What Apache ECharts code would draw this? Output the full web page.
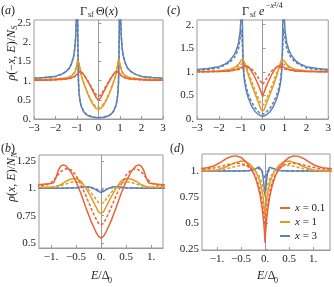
<!DOCTYPE html>
<html><head><meta charset="utf-8">
<script src="https://cdn.jsdelivr.net/npm/echarts@6/dist/echarts.min.js"></script>
<style>html,body{margin:0;padding:0;background:#fff}#c{width:334px;height:287px}</style>
</head><body><div id="c"></div>
<script>
// ---------- tick labels ----------
const aXTicks = [-3,-2,-1,0,1,2,3];
const aXLabels = ['\u22123','\u22122','\u22121','0','1','2','3'];
const aYTicks = [0,0.5,1,1.5,2,2.5];
const aYLabels = ['0.','0.5','1.','1.5','2.','2.5'];
const cYTicks = [0,0.5,1,1.5,2];
const cYLabels = ['0.','0.5','1.','1.5','2.'];
const bXTicks = [-1,-0.5,0,0.5,1];
const bXLabels = ['\u22121.','\u22120.5','0.','0.5','1.'];
const bYTicks = [0.5,0.75,1,1.25];
const bYLabels = ['0.5','0.75','1.','1.25'];
const dYTicks = [0.25,0.5,0.75,1];
const dYLabels = ['0.25','0.5','0.75','1.'];
const legendNames = ['x = 0.1','x = 1','x = 3'];

// ---------- panel (a): Gamma_sf Theta(x) ----------
const aBlueSolid = [[-3,1.06],[-2.5,1.08],[-2,1.11],[-1.7,1.17],[-1.5,1.24],[-1.35,1.33],[-1.25,1.45],[-1.15,1.65],[-1.1,1.85],[-1.06,2.15],[-1.03,2.6],[-1,4],[-0.97,2.6],[-0.95,1.5],[-0.93,0.95],[-0.9,0.65],[-0.85,0.45],[-0.8,0.33],[-0.7,0.2],[-0.6,0.13],[-0.5,0.09],[-0.35,0.06],[-0.2,0.04],[0,0.03],
  [0.2,0.04],[0.35,0.06],[0.5,0.09],[0.6,0.13],[0.7,0.2],[0.8,0.33],[0.85,0.45],[0.9,0.65],[0.93,0.95],[0.95,1.5],[0.97,2.6],[1,4],[1.03,2.6],[1.06,2.15],[1.1,1.85],[1.15,1.65],[1.25,1.45],[1.35,1.33],[1.5,1.24],[1.7,1.17],[2,1.11],[2.5,1.08],[3,1.06]];
const aBlueDash = [[-3,1.06],[-2.5,1.08],[-2,1.11],[-1.7,1.17],[-1.5,1.24],[-1.35,1.33],[-1.25,1.45],[-1.15,1.65],[-1.1,1.85],[-1.06,2.15],[-1.03,2.6],[-1,4],[-0.97,2.6],[-0.95,1.5],[-0.93,0.96],[-0.9,0.66],[-0.85,0.46],[-0.8,0.34],[-0.7,0.21],[-0.6,0.14],[-0.5,0.1],[-0.35,0.07],[-0.2,0.05],[0,0.04],
  [0.2,0.05],[0.35,0.07],[0.5,0.1],[0.6,0.14],[0.7,0.21],[0.8,0.34],[0.85,0.46],[0.9,0.66],[0.93,0.96],[0.95,1.5],[0.97,2.6],[1,4],[1.03,2.6],[1.06,2.15],[1.1,1.85],[1.15,1.65],[1.25,1.45],[1.35,1.33],[1.5,1.24],[1.7,1.17],[2,1.11],[2.5,1.08],[3,1.06]];
const aOrangeSolid = [[-3,1.03],[-2.5,1.03],[-2,1.04],[-1.5,1.07],[-1.25,1.12],[-1.1,1.22],[-1.02,1.38],[-0.97,1.52],[-0.94,1.56],[-0.9,1.45],[-0.85,1.27],[-0.8,1.13],[-0.7,0.96],[-0.6,0.8],[-0.5,0.66],[-0.4,0.53],[-0.3,0.42],[-0.2,0.33],[-0.1,0.27],[0,0.25],
  [0.1,0.27],[0.2,0.33],[0.3,0.42],[0.4,0.53],[0.5,0.66],[0.6,0.8],[0.7,0.96],[0.8,1.13],[0.85,1.27],[0.9,1.45],[0.94,1.56],[0.97,1.52],[1.02,1.38],[1.1,1.22],[1.25,1.12],[1.5,1.07],[2,1.04],[2.5,1.03],[3,1.03]];
const aOrangeDash = [[-3,1.03],[-2.5,1.03],[-2,1.04],[-1.5,1.07],[-1.25,1.12],[-1.1,1.22],[-1.02,1.37],[-0.97,1.5],[-0.94,1.53],[-0.9,1.44],[-0.85,1.27],[-0.8,1.14],[-0.7,0.97],[-0.6,0.82],[-0.5,0.68],[-0.4,0.56],[-0.3,0.45],[-0.2,0.37],[-0.1,0.32],[0,0.3],
  [0.1,0.32],[0.2,0.37],[0.3,0.45],[0.4,0.56],[0.5,0.68],[0.6,0.82],[0.7,0.97],[0.8,1.14],[0.85,1.27],[0.9,1.44],[0.94,1.53],[0.97,1.5],[1.02,1.37],[1.1,1.22],[1.25,1.12],[1.5,1.07],[2,1.04],[2.5,1.03],[3,1.03]];
const aRedSolid = [[-3,1.01],[-2.5,1.01],[-2,1.02],[-1.5,1.04],[-1.25,1.07],[-1.1,1.11],[-1,1.17],[-0.92,1.22],[-0.85,1.25],[-0.8,1.24],[-0.7,1.17],[-0.6,1.08],[-0.5,0.98],[-0.4,0.88],[-0.3,0.77],[-0.2,0.66],[-0.1,0.55],[-0.05,0.5],[0,0.48],
  [0.05,0.5],[0.1,0.55],[0.2,0.66],[0.3,0.77],[0.4,0.88],[0.5,0.98],[0.6,1.08],[0.7,1.17],[0.8,1.24],[0.85,1.25],[0.92,1.22],[1,1.17],[1.1,1.11],[1.25,1.07],[1.5,1.04],[2,1.02],[2.5,1.01],[3,1.01]];
const aRedDash = [[-3,1.01],[-2.5,1.01],[-2,1.02],[-1.5,1.04],[-1.25,1.07],[-1.1,1.11],[-1,1.17],[-0.92,1.22],[-0.85,1.24],[-0.8,1.23],[-0.7,1.17],[-0.6,1.09],[-0.5,1.0],[-0.4,0.91],[-0.3,0.81],[-0.2,0.71],[-0.1,0.63],[-0.05,0.6],[0,0.59],
  [0.05,0.6],[0.1,0.63],[0.2,0.71],[0.3,0.81],[0.4,0.91],[0.5,1.0],[0.6,1.09],[0.7,1.17],[0.8,1.23],[0.85,1.24],[0.92,1.22],[1,1.17],[1.1,1.11],[1.25,1.07],[1.5,1.04],[2,1.02],[2.5,1.01],[3,1.01]];

// ---------- panel (c): Gamma_sf exp(-x^2/4) ----------
const cBlueSolid = [[-3,1.05],[-2.5,1.07],[-2,1.11],[-1.7,1.17],[-1.5,1.24],[-1.3,1.36],[-1.2,1.46],[-1.1,1.62],[-1.03,1.85],[-0.98,2.2],[-0.95,3],[-0.93,2.2],[-0.9,1.4],[-0.87,1.0],[-0.83,0.8],[-0.75,0.6],[-0.65,0.44],[-0.5,0.27],[-0.35,0.16],[-0.2,0.1],[-0.1,0.07],[0,0.06],
  [0.1,0.07],[0.2,0.1],[0.35,0.16],[0.5,0.27],[0.65,0.44],[0.75,0.6],[0.83,0.8],[0.87,1.0],[0.9,1.4],[0.93,2.2],[0.95,3],[0.98,2.2],[1.03,1.85],[1.1,1.62],[1.2,1.46],[1.3,1.36],[1.5,1.24],[1.7,1.17],[2,1.11],[2.5,1.07],[3,1.05]];
const cBlueDash = [[-3,1.03],[-2.5,1.05],[-2,1.08],[-1.5,1.2],[-1.3,1.3],[-1.2,1.38],[-1.1,1.5],[-1.03,1.7],[-0.98,1.9],[-0.95,1.92],[-0.92,1.5],[-0.88,1.1],[-0.83,0.88],[-0.75,0.68],[-0.65,0.52],[-0.5,0.36],[-0.35,0.24],[-0.2,0.16],[-0.1,0.12],[0,0.1],
  [0.1,0.12],[0.2,0.16],[0.35,0.24],[0.5,0.36],[0.65,0.52],[0.75,0.68],[0.83,0.88],[0.88,1.1],[0.92,1.5],[0.95,1.92],[0.98,1.9],[1.03,1.7],[1.1,1.5],[1.2,1.38],[1.3,1.3],[1.5,1.2],[2,1.08],[2.5,1.05],[3,1.03]];
const cOrangeSolid = [[-3,1.01],[-2.5,1.01],[-2,1.02],[-1.5,1.05],[-1.25,1.1],[-1.1,1.16],[-1,1.23],[-0.92,1.28],[-0.87,1.27],[-0.8,1.17],[-0.7,1.0],[-0.6,0.86],[-0.5,0.72],[-0.4,0.6],[-0.3,0.48],[-0.2,0.36],[-0.1,0.24],[-0.05,0.18],[0,0.14],
  [0.05,0.18],[0.1,0.24],[0.2,0.36],[0.3,0.48],[0.4,0.6],[0.5,0.72],[0.6,0.86],[0.7,1.0],[0.8,1.17],[0.87,1.27],[0.92,1.28],[1,1.23],[1.1,1.16],[1.25,1.1],[1.5,1.05],[2,1.02],[2.5,1.01],[3,1.01]];
const cOrangeDash = [[-3,1.01],[-2.5,1.01],[-2,1.02],[-1.5,1.04],[-1.2,1.09],[-1,1.15],[-0.9,1.2],[-0.85,1.2],[-0.75,1.1],[-0.6,0.93],[-0.5,0.8],[-0.4,0.68],[-0.3,0.56],[-0.2,0.45],[-0.1,0.35],[-0.05,0.3],[0,0.27],
  [0.05,0.3],[0.1,0.35],[0.2,0.45],[0.3,0.56],[0.4,0.68],[0.5,0.8],[0.6,0.93],[0.75,1.1],[0.85,1.2],[0.9,1.2],[1,1.15],[1.2,1.09],[1.5,1.04],[2,1.02],[2.5,1.01],[3,1.01]];
const cRedSolid = [[-3,1.0],[-2,1.01],[-1.5,1.02],[-1.2,1.05],[-1,1.09],[-0.85,1.12],[-0.75,1.13],[-0.65,1.11],[-0.55,1.05],[-0.45,0.97],[-0.35,0.88],[-0.25,0.78],[-0.15,0.67],[-0.07,0.57],[0,0.47],
  [0.07,0.57],[0.15,0.67],[0.25,0.78],[0.35,0.88],[0.45,0.97],[0.55,1.05],[0.65,1.11],[0.75,1.13],[0.85,1.12],[1,1.09],[1.2,1.05],[1.5,1.02],[2,1.01],[3,1.0]];
const cRedDash = [[-3,1.0],[-2,1.01],[-1.5,1.02],[-1,1.06],[-0.8,1.09],[-0.65,1.1],[-0.5,1.06],[-0.35,0.98],[-0.2,0.88],[-0.1,0.8],[0,0.73],
  [0.1,0.8],[0.2,0.88],[0.35,0.98],[0.5,1.06],[0.65,1.1],[0.8,1.09],[1,1.06],[1.5,1.02],[2,1.01],[3,1.0]];

// ---------- panel (b) ----------
const bRedSolid = [[-1.3,1.03],[-1.1,1.04],[-1,1.045],[-0.95,1.05],[-0.9,1.1],[-0.85,1.17],[-0.8,1.205],[-0.75,1.215],[-0.7,1.205],[-0.6,1.15],[-0.5,1.06],[-0.4,0.95],[-0.3,0.82],[-0.2,0.7],[-0.1,0.6],[-0.05,0.56],[0,0.545],
  [0.05,0.56],[0.1,0.6],[0.2,0.7],[0.3,0.82],[0.4,0.95],[0.5,1.06],[0.6,1.15],[0.7,1.205],[0.75,1.215],[0.8,1.205],[0.85,1.17],[0.9,1.1],[0.95,1.05],[1,1.045],[1.1,1.04],[1.3,1.03]];
const bRedDash = [[-1.3,1.02],[-1.1,1.03],[-1,1.05],[-0.9,1.1],[-0.8,1.155],[-0.7,1.18],[-0.6,1.17],[-0.5,1.12],[-0.4,1.03],[-0.3,0.93],[-0.2,0.82],[-0.1,0.72],[-0.05,0.68],[0,0.665],
  [0.05,0.68],[0.1,0.72],[0.2,0.82],[0.3,0.93],[0.4,1.03],[0.5,1.12],[0.6,1.17],[0.7,1.18],[0.8,1.155],[0.9,1.1],[1,1.05],[1.1,1.03],[1.3,1.02]];
const bOrangeSolid = [[-1.3,1.01],[-1,1.01],[-0.9,1.015],[-0.8,1.035],[-0.7,1.065],[-0.6,1.085],[-0.5,1.09],[-0.4,1.065],[-0.3,1.0],[-0.2,0.92],[-0.1,0.83],[-0.05,0.785],[0,0.77],
  [0.05,0.785],[0.1,0.83],[0.2,0.92],[0.3,1.0],[0.4,1.065],[0.5,1.09],[0.6,1.085],[0.7,1.065],[0.8,1.035],[0.9,1.015],[1,1.01],[1.3,1.01]];
const bOrangeDash = [[-1.3,1.005],[-1,1.01],[-0.8,1.025],[-0.7,1.04],[-0.6,1.055],[-0.5,1.06],[-0.4,1.05],[-0.3,1.01],[-0.2,0.96],[-0.1,0.9],[-0.05,0.87],[0,0.86],
  [0.05,0.87],[0.1,0.9],[0.2,0.96],[0.3,1.01],[0.4,1.05],[0.5,1.06],[0.6,1.055],[0.7,1.04],[0.8,1.025],[1,1.01],[1.3,1.005]];
const bBlueSolid = [[-1.3,1.0],[-0.8,1.0],[-0.5,1.005],[-0.35,1.015],[-0.25,1.015],[-0.15,1.0],[-0.08,0.98],[0,0.96],
  [0.08,0.98],[0.15,1.0],[0.25,1.015],[0.35,1.015],[0.5,1.005],[0.8,1.0],[1.3,1.0]];
const bBlueDash = [[-1.3,1.0],[-0.5,1.003],[-0.3,1.01],[-0.15,1.0],[-0.05,0.985],[0,0.98],
  [0.05,0.985],[0.15,1.0],[0.3,1.01],[0.5,1.003],[1.3,1.0]];

// ---------- panel (d) ----------
const dRedSolid = [[-1.4,1.02],[-1.2,1.03],[-1.05,1.05],[-0.9,1.09],[-0.8,1.12],[-0.7,1.14],[-0.6,1.145],[-0.5,1.13],[-0.4,1.09],[-0.3,1.03],[-0.22,0.96],[-0.15,0.86],[-0.1,0.76],[-0.06,0.64],[-0.03,0.52],[-0.01,0.4],[0,0.31],
  [0.01,0.4],[0.03,0.52],[0.06,0.64],[0.1,0.76],[0.15,0.86],[0.22,0.96],[0.3,1.03],[0.4,1.09],[0.5,1.13],[0.6,1.145],[0.7,1.14],[0.8,1.12],[0.9,1.09],[1.05,1.05],[1.2,1.03],[1.4,1.02]];
const dRedDash = [[-1.4,1.01],[-1.1,1.025],[-0.9,1.045],[-0.7,1.07],[-0.55,1.075],[-0.4,1.06],[-0.3,1.02],[-0.2,0.95],[-0.12,0.85],[-0.07,0.73],[-0.03,0.6],[0,0.47],
  [0.03,0.6],[0.07,0.73],[0.12,0.85],[0.2,0.95],[0.3,1.02],[0.4,1.06],[0.55,1.075],[0.7,1.07],[0.9,1.045],[1.1,1.025],[1.4,1.01]];
const dOrangeSolid = [[-1.4,1.0],[-1,1.01],[-0.8,1.04],[-0.65,1.075],[-0.5,1.095],[-0.4,1.09],[-0.3,1.06],[-0.2,1.0],[-0.13,0.93],[-0.08,0.85],[-0.04,0.75],[-0.01,0.62],[0,0.56],
  [0.01,0.62],[0.04,0.75],[0.08,0.85],[0.13,0.93],[0.2,1.0],[0.3,1.06],[0.4,1.09],[0.5,1.095],[0.65,1.075],[0.8,1.04],[1,1.01],[1.4,1.0]];
const dOrangeDash = [[-1.4,1.0],[-1,1.005],[-0.8,1.02],[-0.6,1.045],[-0.45,1.055],[-0.3,1.04],[-0.2,1.0],[-0.12,0.95],[-0.06,0.88],[-0.02,0.8],[0,0.75],
  [0.02,0.8],[0.06,0.88],[0.12,0.95],[0.2,1.0],[0.3,1.04],[0.45,1.055],[0.6,1.045],[0.8,1.02],[1,1.005],[1.4,1.0]];
const dBlueSolid = [[-1.4,1.0],[-0.5,1.0],[-0.3,1.005],[-0.2,1.02],[-0.13,1.04],[-0.09,1.035],[-0.06,1.0],[-0.03,0.9],[-0.01,0.8],[0,0.76],
  [0.01,0.8],[0.03,0.9],[0.06,1.0],[0.09,1.035],[0.13,1.04],[0.2,1.02],[0.3,1.005],[0.5,1.0],[1.4,1.0]];
const dBlueDash = [[-1.4,1.0],[-0.4,1.0],[-0.25,1.01],[-0.15,1.025],[-0.1,1.015],[-0.06,0.99],[-0.03,0.96],[0,0.93],
  [0.03,0.96],[0.06,0.99],[0.1,1.015],[0.15,1.025],[0.25,1.01],[0.4,1.0],[1.4,1.0]];

// ---------- styling ----------
const RED = '#EB6235', ORANGE = '#E19C24', BLUE = '#5E81B5';
const FONT = "'Liberation Serif','DejaVu Serif',serif";
const FRAME = '#9a9a9a';
const TXT = '#222';

function fmt(ticks, labels){
  return function(v){
    for (let i=0;i<ticks.length;i++){ if (Math.abs(ticks[i]-v)<1e-6) return labels[i]; }
    return '';
  };
}
function xAx(grid, min, max, ticks, labels){
  return {type:'value', gridIndex:grid, min:min, max:max,
    axisLine:{show:true, lineStyle:{color:FRAME, width:1}},
    axisTick:{show:true, inside:true, length:3, customValues:ticks, lineStyle:{color:FRAME}},
    axisLabel:{customValues:ticks, formatter:fmt(ticks,labels), color:TXT, fontFamily:FONT, fontSize:11, margin:4},
    splitLine:{show:false}};
}
function yAx(grid, min, max, ticks, labels){
  return {type:'value', gridIndex:grid, min:min, max:max,
    axisLine:{show:true, lineStyle:{color:FRAME, width:1}},
    axisTick:{show:true, inside:true, length:3, customValues:ticks, lineStyle:{color:FRAME}},
    axisLabel:{customValues:ticks, formatter:fmt(ticks,labels), color:TXT, fontFamily:FONT, fontSize:11, margin:3},
    splitLine:{show:false}};
}
function s(name, color, data, dashed, idx){
  return {type:'line', name:name, xAxisIndex:idx, yAxisIndex:idx, data:data, showSymbol:false, symbol:'none',
    clip:true, animation:false, lineStyle:{color:color, width:1.5, type: dashed ? [3,2] : 'solid'}, itemStyle:{color:color}};
}
function panel(idx, red, redD, orange, orangeD, blue, blueD){
  return [s(legendNames[2],BLUE,blue,false,idx), s(legendNames[2],BLUE,blueD,true,idx),
          s(legendNames[1],ORANGE,orange,false,idx), s(legendNames[1],ORANGE,orangeD,true,idx),
          s(legendNames[0],RED,red,false,idx), s(legendNames[0],RED,redD,true,idx)];
}
function txt(x, y, t, size, opts){
  return Object.assign({type:'text', x:x, y:y, style:Object.assign({text:t, fontFamily:FONT, fontSize:size, fill:TXT,
    rich:{i:{fontStyle:'italic', fontFamily:FONT, fontSize:size, fill:TXT}}}, opts||{})}, {silent:true});
}

const chart = echarts.init(document.getElementById('c'), null, {renderer:'canvas'});
const series = [].concat(
  panel(0, aRedSolid, aRedDash, aOrangeSolid, aOrangeDash, aBlueSolid, aBlueDash),
  panel(1, cRedSolid, cRedDash, cOrangeSolid, cOrangeDash, cBlueSolid, cBlueDash),
  panel(2, bRedSolid, bRedDash, bOrangeSolid, bOrangeDash, bBlueSolid, bBlueDash),
  panel(3, dRedSolid, dRedDash, dOrangeSolid, dOrangeDash, dBlueSolid, dBlueDash)
);

chart.setOption({
  backgroundColor:'#fff',
  animation:false,
  grid:[
    {left:34, top:20, width:129, height:99, show:true, borderColor:FRAME, borderWidth:1},
    {left:197, top:20, width:133, height:99, show:true, borderColor:FRAME, borderWidth:1},
    {left:39, top:155, width:124, height:93, show:true, borderColor:FRAME, borderWidth:1},
    {left:202, top:154, width:128, height:96, show:true, borderColor:FRAME, borderWidth:1}
  ],
  xAxis:[
    xAx(0,-3,3,aXTicks,aXLabels),
    xAx(1,-3,3,aXTicks,aXLabels),
    xAx(2,-1.24,1.24,bXTicks,bXLabels),
    xAx(3,-1.31,1.35,bXTicks,bXLabels)
  ],
  yAxis:[
    yAx(0,0,2.58,aYTicks,aYLabels),
    yAx(1,0,2.1,cYTicks,cYLabels),
    yAx(2,0.454,1.305,bYTicks,bYLabels),
    yAx(3,0.24,1.163,dYTicks,dYLabels)
  ],
  legend:{data:legendNames, orient:'vertical', left:280, top:202, padding:0, itemWidth:10, itemHeight:2, itemGap:2, icon:'rect',
    selectedMode:false,
    formatter:function(n){ return '{i|x}' + n.slice(1); },
    textStyle:{fontFamily:FONT, fontSize:11, lineHeight:12, color:TXT, rich:{i:{fontStyle:'italic', fontFamily:FONT, fontSize:11, lineHeight:12, color:TXT}}}},
  graphic:[
    // panel labels
    txt(1, 5, '({i|a})', 12),
    txt(167, 5, '({i|c})', 12),
    txt(1, 143, '({i|b})', 12),
    txt(170, 143, '({i|d})', 12),
    // title (a)
    txt(80, 6, '\u0393', 12),
    txt(88, 11, 'sf', 8),
    txt(96, 6, '\u0398({i|x})', 12),
    // title (c)
    txt(242, 6, '\u0393', 12),
    txt(250, 11, 'sf', 8),
    txt(259, 6, '{i|e}', 12),
    txt(266, 2, '\u2212{i|x}\u00b2/4', 8, {rich:{i:{fontStyle:'italic', fontFamily:FONT, fontSize:8, fill:TXT}}}),
    // y title (a)
    {type:'group', x:12, y:30, rotation:Math.PI/2, silent:true, children:[
      {type:'text', x:0, y:0, style:{text:'{i|\u03c1}(\u2212{i|x}, {i|E})/{i|N}', fontFamily:FONT, fontSize:12, fill:TXT, align:'right', verticalAlign:'middle',
        rich:{i:{fontStyle:'italic', fontFamily:FONT, fontSize:12, fill:TXT}}}},
      {type:'text', x:0.5, y:3, style:{text:'{i|S}', fontFamily:FONT, fontSize:8, fill:TXT, align:'left', verticalAlign:'middle',
        rich:{i:{fontStyle:'italic', fontFamily:FONT, fontSize:8, fill:TXT}}}}
    ]},
    // y title (b)
    {type:'group', x:12, y:158, rotation:Math.PI/2, silent:true, children:[
      {type:'text', x:0, y:0, style:{text:'{i|\u03c1}({i|x}, {i|E})/{i|N}', fontFamily:FONT, fontSize:12, fill:TXT, align:'right', verticalAlign:'middle',
        rich:{i:{fontStyle:'italic', fontFamily:FONT, fontSize:12, fill:TXT}}}},
      {type:'text', x:0.5, y:3, style:{text:'{i|N}', fontFamily:FONT, fontSize:8, fill:TXT, align:'left', verticalAlign:'middle',
        rich:{i:{fontStyle:'italic', fontFamily:FONT, fontSize:8, fill:TXT}}}}
    ]},
    // x titles
    txt(91, 270, '{i|E}/\u0394', 12),
    txt(108, 277, '0', 8),
    txt(257, 270, '{i|E}/\u0394', 12),
    txt(274, 277, '0', 8)
  ],
  series: series
});
</script>
</body></html>
